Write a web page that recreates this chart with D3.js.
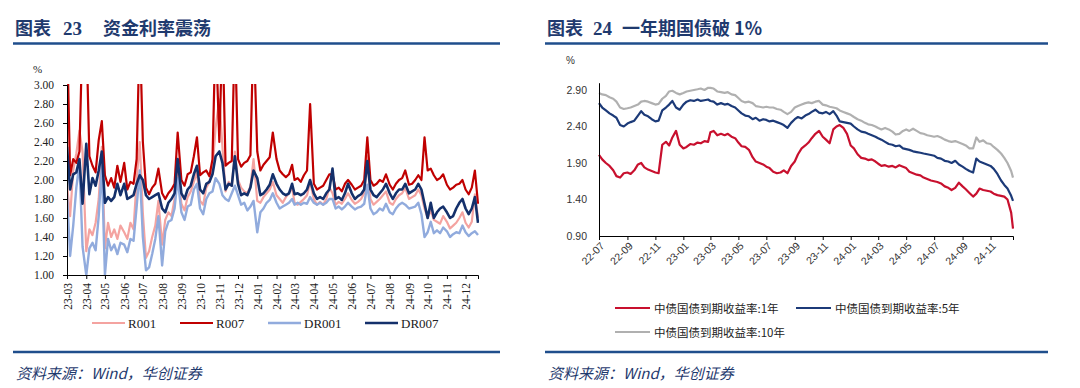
<!DOCTYPE html>
<html>
<head>
<meta charset="utf-8">
<script src="https://cdn.jsdelivr.net/npm/d3@7/dist/d3.min.js"></script>
<style>
  body { margin: 0; background: #fff; }
  svg { display: block; }
</style>
</head>
<body>
<script>
// ---------- 图表23 资金利率 ----------
var moneyMonths = ["2023-03","2023-04","2023-05","2023-06","2023-07","2023-08","2023-09","2023-10","2023-11","2023-12",
  "2024-01","2024-02","2024-03","2024-04","2024-05","2024-06","2024-07","2024-08","2024-09","2024-10","2024-11","2024-12"];
var moneyDays = [1, 6, 11, 16, 21, 26];
var moneyNames = ["R001", "R007", "DR001", "DR007"];

// 每行一个月
var R001 = [
  1.95,1.62,2.10,2.28,2.52,2.30,
  1.25,1.48,1.42,1.55,1.80,2.35,
  1.28,1.55,1.40,1.48,1.38,1.52,
  1.45,1.38,1.55,1.48,2.00,2.40,
  1.65,1.18,1.25,1.40,1.52,1.78,
  1.32,1.58,1.66,1.62,1.80,2.12,
  1.75,1.68,1.82,1.88,1.98,2.08,
  1.78,1.74,1.92,1.98,2.12,2.55,
  2.85,2.35,1.88,1.98,1.94,2.30,
  2.00,1.92,1.88,1.86,1.93,2.22,
  1.78,1.76,1.82,1.86,1.90,1.98,
  1.84,1.80,1.76,1.82,1.86,1.92,
  1.76,1.74,1.77,1.80,1.84,1.98,
  1.80,1.74,1.77,1.74,1.80,1.92,
  1.86,1.74,1.77,1.75,1.80,1.86,
  1.79,1.75,1.77,1.80,1.86,2.25,
  1.80,1.74,1.77,1.80,1.84,1.88,
  1.76,1.74,1.80,1.84,1.86,1.92,
  1.80,1.82,1.84,1.90,1.84,1.70,
  1.60,1.68,1.58,1.56,1.54,1.62,
  1.56,1.49,1.52,1.55,1.60,1.66,
  1.55,1.50,1.56,1.85,1.60
];
var R007 = [
  3.60,2.05,2.22,2.18,2.30,3.60,
  3.60,2.25,2.15,2.08,2.42,2.62,
  2.05,1.94,2.02,1.92,2.15,1.98,
  2.18,1.90,1.98,1.96,2.22,3.60,
  2.40,1.92,1.85,1.92,1.96,2.12,
  1.86,1.80,1.86,1.90,1.96,2.50,
  2.00,1.94,2.06,2.08,2.25,2.45,
  2.05,2.08,2.10,2.04,2.22,3.60,
  2.40,3.60,2.15,2.18,2.20,3.60,
  2.22,2.14,2.18,2.20,2.26,3.60,
  2.30,2.10,2.16,2.20,2.24,2.50,
  2.22,2.10,2.06,2.03,2.06,2.16,
  2.00,2.02,1.98,2.05,2.10,2.80,
  1.96,1.90,1.92,1.94,2.00,2.06,
  2.06,1.90,1.92,1.88,1.96,2.00,
  1.95,1.90,1.92,1.94,2.00,2.45,
  2.00,1.94,1.96,2.00,1.98,2.06,
  1.95,1.90,1.96,2.00,2.02,2.10,
  1.95,1.96,2.00,2.05,2.00,2.45,
  2.10,2.12,2.05,2.00,2.02,2.06,
  1.95,1.90,1.92,1.95,1.96,2.00,
  1.90,1.85,1.92,2.10,1.75
];
var DR001 = [
  1.85,1.20,1.52,1.92,2.18,1.30,
  1.00,1.28,1.34,1.26,1.62,2.15,
  1.00,1.38,1.26,1.32,1.22,1.34,
  1.32,1.24,1.38,1.36,1.72,2.10,
  1.40,1.05,1.08,1.22,1.38,1.62,
  1.10,1.46,1.56,1.58,1.70,2.02,
  1.66,1.58,1.72,1.74,1.90,1.96,
  1.70,1.64,1.80,1.86,1.88,2.02,
  1.96,1.84,1.80,1.78,1.86,1.94,
  1.84,1.74,1.76,1.68,1.72,1.78,
  1.45,1.66,1.70,1.76,1.79,1.86,
  1.76,1.70,1.72,1.74,1.76,1.80,
  1.74,1.76,1.74,1.76,1.75,1.82,
  1.76,1.74,1.76,1.74,1.76,1.80,
  1.80,1.70,1.72,1.69,1.72,1.76,
  1.72,1.69,1.71,1.72,1.75,1.95,
  1.70,1.64,1.66,1.70,1.68,1.75,
  1.66,1.64,1.70,1.74,1.76,1.74,
  1.70,1.71,1.72,1.76,1.64,1.40,
  1.45,1.56,1.44,1.47,1.44,1.50,
  1.46,1.40,1.43,1.45,1.44,1.52,
  1.45,1.41,1.44,1.46,1.42
];
var DR007 = [
  2.35,1.90,2.06,2.08,2.22,1.75,
  2.38,1.85,2.02,1.94,2.10,2.30,
  1.76,1.82,1.78,1.82,1.96,1.84,
  1.96,1.80,1.82,1.84,1.96,2.05,
  2.00,1.84,1.80,1.82,1.84,1.86,
  1.70,1.66,1.76,1.80,1.86,2.22,
  1.86,1.80,1.90,1.94,2.06,2.15,
  1.90,1.86,1.96,1.98,2.06,2.25,
  2.30,2.18,1.90,1.96,1.94,2.25,
  1.96,1.84,1.86,1.84,1.92,2.10,
  2.02,1.84,1.86,1.90,1.95,2.06,
  1.96,1.90,1.86,1.84,1.86,1.96,
  1.85,1.86,1.84,1.86,1.90,2.00,
  1.86,1.80,1.82,1.80,1.86,1.90,
  2.12,1.80,1.82,1.79,1.86,1.96,
  1.86,1.80,1.83,1.85,1.90,2.20,
  1.90,1.84,1.82,1.86,1.90,1.96,
  1.86,1.80,1.86,1.90,1.90,1.96,
  1.86,1.88,1.90,1.96,1.90,1.75,
  1.60,1.76,1.60,1.66,1.70,1.72,
  1.66,1.60,1.62,1.70,1.76,1.80,
  1.70,1.64,1.70,1.82,1.55
];
var moneyTicks = [1.0, 1.2, 1.4, 1.6, 1.8, 2.0, 2.2, 2.4, 2.6, 2.8, 3.0];

// ---------- 图表24 国债收益率 ----------
var bondMonths = ["2022-07","2022-08","2022-09","2022-10","2022-11","2022-12",
  "2023-01","2023-02","2023-03","2023-04","2023-05","2023-06","2023-07","2023-08","2023-09","2023-10","2023-11","2023-12",
  "2024-01","2024-02","2024-03","2024-04","2024-05","2024-06","2024-07","2024-08","2024-09","2024-10","2024-11","2024-12"];
var bondDays = [1, 8, 16, 24];
var bondLastDate = "2024-12-20";
var bondNames = ["中债国债到期收益率:1年", "中债国债到期收益率:5年", "中债国债到期收益率:10年"];

// 每行半年，最后一个值为 2024-12-20
var cgb1y = [
  2.01,1.95,1.90,1.86, 1.80,1.72,1.70,1.76, 1.77,1.75,1.80,1.88, 1.90,1.84,1.81,1.79, 1.77,1.76,2.15,2.19, 2.14,2.25,2.34,2.15,
  2.10,2.12,2.16,2.15, 2.18,2.17,2.20,2.19, 2.32,2.34,2.28,2.30, 2.28,2.30,2.26,2.24, 2.18,2.13,2.12,2.08, 1.98,1.92,1.90,1.88,
  1.85,1.83,1.78,1.76, 1.77,1.80,1.76,1.86, 1.92,2.02,2.10,2.14, 2.18,2.24,2.30,2.34, 2.26,2.22,2.17,2.36, 2.40,2.42,2.38,2.30,
  2.14,2.10,2.02,1.97, 1.96,1.94,1.95,1.92, 1.89,1.86,1.87,1.85, 1.86,1.84,1.87,1.85, 1.83,1.78,1.76,1.74, 1.73,1.70,1.68,1.66,
  1.65,1.64,1.62,1.58, 1.56,1.53,1.56,1.63, 1.58,1.54,1.49,1.44, 1.48,1.55,1.53,1.52, 1.51,1.48,1.46,1.45, 1.44,1.40,1.22,
  1.00
];
var cgb5y = [
  2.72,2.66,2.62,2.58, 2.55,2.52,2.42,2.40, 2.44,2.46,2.48,2.55, 2.61,2.56,2.54,2.50, 2.47,2.48,2.62,2.66, 2.70,2.75,2.66,2.63,
  2.70,2.74,2.76,2.75, 2.77,2.75,2.76,2.77, 2.75,2.74,2.70,2.72, 2.70,2.71,2.68,2.66, 2.62,2.58,2.55,2.54, 2.50,2.52,2.48,2.50,
  2.49,2.47,2.48,2.46, 2.44,2.42,2.38,2.45, 2.50,2.53,2.51,2.55, 2.57,2.60,2.63,2.59, 2.58,2.60,2.57,2.61, 2.55,2.47,2.46,2.45,
  2.44,2.40,2.36,2.33, 2.32,2.30,2.28,2.26, 2.24,2.22,2.19,2.16, 2.15,2.13,2.14,2.10, 2.09,2.08,2.06,2.05, 2.04,2.03,2.02,2.01,
  2.00,1.97,1.96,1.93, 1.92,1.90,1.93,1.88, 1.85,1.82,1.79,1.77, 1.96,1.92,1.90,1.88, 1.86,1.82,1.75,1.66, 1.60,1.55,1.45,
  1.38
];
var cgb10y = [
  2.86,2.84,2.83,2.80, 2.78,2.74,2.66,2.64, 2.65,2.66,2.68,2.70, 2.74,2.75,2.74,2.72, 2.70,2.71,2.78,2.82, 2.88,2.89,2.86,2.84,
  2.86,2.88,2.89,2.90, 2.91,2.92,2.90,2.93, 2.93,2.92,2.88,2.87, 2.86,2.87,2.84,2.83, 2.79,2.75,2.73,2.74, 2.72,2.68,2.67,2.66,
  2.67,2.66,2.66,2.64, 2.63,2.60,2.57,2.60, 2.66,2.68,2.70,2.72, 2.73,2.72,2.74,2.75, 2.70,2.69,2.67,2.66, 2.65,2.62,2.60,2.58,
  2.56,2.53,2.50,2.48, 2.45,2.43,2.42,2.40, 2.38,2.36,2.38,2.36, 2.33,2.29,2.30,2.34, 2.36,2.34,2.37,2.34, 2.31,2.30,2.28,2.27,
  2.26,2.27,2.25,2.22, 2.20,2.19,2.20,2.18, 2.16,2.14,2.10,2.10, 2.25,2.19,2.21,2.17, 2.16,2.12,2.08,2.03, 1.97,1.90,1.79,
  1.70
];
var bondTicks = [0.90, 1.40, 1.90, 2.40, 2.90];

var titleColor = "#1F3A6E";
var ruleColor = "#1F4E8C";

var svg = d3.select("body").append("svg")
  .attr("width", 1080)
  .attr("height", 388);

var parse = d3.timeParse("%Y-%m-%d");
var pad = function (n) { return n < 10 ? "0" + n : "" + n; };

// 标题、横线、资料来源
function frame(x0, x1, num, words, wordsX, numX) {
  svg.append("text").attr("x", x0 + 2).attr("y", 35)
    .attr("font-family", "Noto Sans CJK SC").attr("font-weight", "bold")
    .attr("font-size", 18).attr("fill", titleColor).text("图表");
  svg.append("text").attr("x", numX).attr("y", 35)
    .attr("font-family", "Liberation Serif").attr("font-weight", "bold")
    .attr("font-size", 19).attr("fill", titleColor).text(num);
  svg.append("text").attr("x", wordsX).attr("y", 35)
    .attr("font-family", "Noto Sans CJK SC").attr("font-weight", "bold")
    .attr("font-size", 18).attr("fill", titleColor).text(words);
  svg.append("line").attr("x1", x0).attr("x2", x1).attr("y1", 43.5).attr("y2", 43.5)
    .attr("stroke", ruleColor).attr("stroke-width", 2.5);
  svg.append("line").attr("x1", x0).attr("x2", x1).attr("y1", 352).attr("y2", 352)
    .attr("stroke", ruleColor).attr("stroke-width", 2.5);
  svg.append("text").attr("x", x0 + 3).attr("y", 379)
    .attr("font-family", "Noto Sans CJK SC").attr("font-style", "italic")
    .attr("font-size", 15).attr("fill", titleColor).text("资料来源：Wind，华创证券");
}
frame(13, 500, "23", "资金利率震荡", 103, 63);
frame(545, 1048, "24", "一年期国债破 1%", 622, 593);

// ---------- 左图 ----------
var moneyDates = [];
moneyMonths.forEach(function (m) {
  moneyDays.forEach(function (d) { moneyDates.push(parse(m + "-" + pad(d))); });
});
moneyDates = moneyDates.slice(0, R001.length);

var x1 = d3.scaleTime().domain([parse("2023-03-01"), parse("2024-12-21")]).range([67, 478]);
var y1 = d3.scaleLinear().domain([1, 3]).range([275, 85]);

svg.append("clipPath").attr("id", "clipL").append("rect")
  .attr("x", 67).attr("y", 84).attr("width", 412).attr("height", 192);

var left = svg.append("g");
var moneySeries = [
  { name: "R001", vals: R001, color: "#F4A3A0", w: 2.2 },
  { name: "R007", vals: R007, color: "#C00000", w: 2.2 },
  { name: "DR001", vals: DR001, color: "#91ABDD", w: 2.4 },
  { name: "DR007", vals: DR007, color: "#14306B", w: 2.6 }
];
var lineL = d3.line().x(function (d) { return x1(d[0]); }).y(function (d) { return y1(d[1]); });
left.append("g").attr("clip-path", "url(#clipL)")
  .selectAll("path").data(moneySeries).enter().append("path")
  .attr("d", function (s) { return lineL(s.vals.map(function (v, i) { return [moneyDates[i], v]; })); })
  .attr("fill", "none")
  .attr("stroke", function (s) { return s.color; })
  .attr("stroke-width", function (s) { return s.w; })
  .attr("stroke-linejoin", "round");

var yAxisL = left.append("g").attr("transform", "translate(67,0)")
  .call(d3.axisLeft(y1).tickValues(moneyTicks).tickFormat(d3.format(".2f")).tickSize(4).tickPadding(9));
var xAxisL = left.append("g").attr("transform", "translate(0,275)")
  .call(d3.axisBottom(x1).tickValues(moneyMonths.map(function (m) { return parse(m + "-01"); }))
    .tickFormat(d3.timeFormat("%y-%m")).tickSize(4));
[yAxisL, xAxisL].forEach(function (a) {
  a.select(".domain").attr("stroke", "#000");
  a.selectAll(".tick line").attr("stroke", "#000");
  a.selectAll("text").attr("font-family", "Liberation Serif").attr("font-size", 11.5).attr("fill", "#222");
});
xAxisL.selectAll("text")
  .attr("transform", "rotate(-90)")
  .attr("text-anchor", "end")
  .attr("x", -8).attr("y", 0).attr("dy", "0.35em");
left.append("text").attr("x", 33).attr("y", 73)
  .attr("font-family", "Liberation Serif").attr("font-size", 11).attr("fill", "#222").text("%");

// 左图图例
var legL = [92, 180, 268, 365];
moneySeries.forEach(function (s, i) {
  left.append("line").attr("x1", legL[i]).attr("x2", legL[i] + 33).attr("y1", 323).attr("y2", 323)
    .attr("stroke", s.color).attr("stroke-width", s.w);
  left.append("text").attr("x", legL[i] + 36).attr("y", 327.5)
    .attr("font-family", "Liberation Serif").attr("font-size", 13).attr("fill", "#222").text(s.name);
});

// ---------- 右图 ----------
var bondDates = [];
bondMonths.forEach(function (m) {
  bondDays.forEach(function (d) { bondDates.push(parse(m + "-" + pad(d))); });
});
bondDates = bondDates.slice(0, cgb1y.length - 1);
bondDates.push(parse(bondLastDate));

var x2 = d3.scaleTime().domain([parse("2022-07-01"), parse(bondLastDate)]).range([599, 1013]);
var y2 = d3.scaleLinear().domain([0.9, 3.0]).range([236, 82.7]);

var right = svg.append("g");
var bondSeries = [
  { name: bondNames[0], vals: cgb1y, color: "#C8102E" },
  { name: bondNames[1], vals: cgb5y, color: "#1C3A78" },
  { name: bondNames[2], vals: cgb10y, color: "#B0B0B0" }
];
var lineR = d3.line().x(function (d) { return x2(d[0]); }).y(function (d) { return y2(d[1]); });
right.selectAll("path.s").data(bondSeries.slice().reverse()).enter().append("path")
  .attr("class", "s")
  .attr("d", function (s) { return lineR(s.vals.map(function (v, i) { return [bondDates[i], v]; })); })
  .attr("fill", "none")
  .attr("stroke", function (s) { return s.color; })
  .attr("stroke-width", 2.2)
  .attr("stroke-linejoin", "round");

var yAxisR = right.append("g").attr("transform", "translate(599,0)")
  .call(d3.axisLeft(y2).tickValues(bondTicks).tickFormat(d3.format(".2f")).tickSize(0).tickPadding(12));
var bondTickDates = bondMonths.filter(function (m, i) { return i % 2 === 0; })
  .map(function (m) { return parse(m + "-01"); });
var xAxisR = right.append("g").attr("transform", "translate(0,236)")
  .call(d3.axisBottom(x2).tickValues(bondTickDates).tickFormat(d3.timeFormat("%y-%m")).tickSize(4));
[yAxisR, xAxisR].forEach(function (a) {
  a.select(".domain").attr("stroke", "#000");
  a.selectAll(".tick line").attr("stroke", "#000");
  a.selectAll("text").attr("font-family", "Liberation Sans").attr("font-size", 10.5).attr("fill", "#333");
});
xAxisR.selectAll("text")
  .attr("transform", "translate(3,8) rotate(-45)")
  .attr("text-anchor", "end")
  .attr("x", 0).attr("y", 0).attr("dy", "0.35em");
right.append("text").attr("x", 566).attr("y", 64)
  .attr("font-family", "Liberation Sans").attr("font-size", 10).attr("fill", "#333").text("%");

// 右图图例
var legR = [[615, 308], [796, 308], [615, 332]];
bondSeries.forEach(function (s, i) {
  right.append("line").attr("x1", legR[i][0]).attr("x2", legR[i][0] + 35)
    .attr("y1", legR[i][1]).attr("y2", legR[i][1])
    .attr("stroke", s.color).attr("stroke-width", 2);
  right.append("text").attr("x", legR[i][0] + 39).attr("y", legR[i][1] + 4.5)
    .attr("font-family", "Noto Sans CJK SC").attr("font-size", 11.5).attr("fill", "#222").text(s.name);
});
</script>
</body>
</html>
